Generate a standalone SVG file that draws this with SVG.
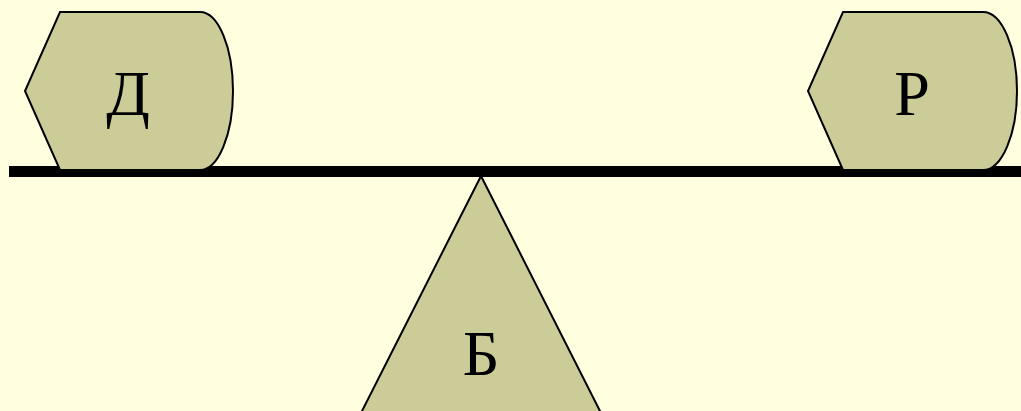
<svg xmlns="http://www.w3.org/2000/svg" width="1021" height="411" viewBox="0 0 1021 411">
<style>
.shape{fill:#CCCC99;stroke:#000;stroke-width:2;stroke-linejoin:miter}
.lbl{font-family:"Liberation Serif","Times New Roman",serif;font-size:64px;fill:#000;text-anchor:middle}
</style>
<rect width="1021" height="411" fill="#FFFFE0"/>
<g id="fulcrum">
<path class="shape" d="M481,176 L601,413 L361,413 Z"/>
<text class="lbl" x="481" y="375">Б</text>
</g>
<g id="connectors">
<rect x="9" y="166" width="1014" height="11" fill="#000"/>
</g>
<g id="node-d">
<path class="shape" d="M60,12 L200,12 A33,79 0 0 1 200,170 L60,170 L25,91 Z"/>
<text class="lbl" x="128" y="115">Д</text>
</g>
<g id="node-r">
<path class="shape" d="M843,12 L983,12 A34,79 0 0 1 983,170 L843,170 L808,91 Z"/>
<text class="lbl" x="912" y="115">Р</text>
</g>
</svg>
